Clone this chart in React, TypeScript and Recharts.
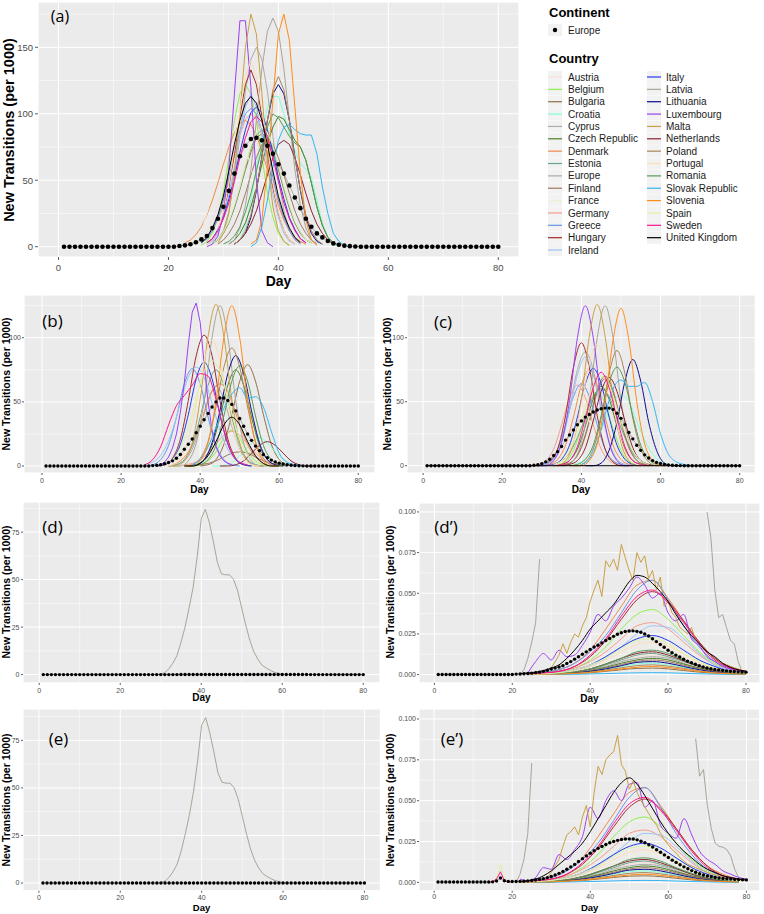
import React from 'react';
import { ComposedChart, Line, XAxis, YAxis, CartesianGrid } from 'recharts';

const FONT = "'Liberation Sans', Arial, Helvetica, sans-serif";

const countries = ['Austria','Belgium','Bulgaria','Croatia','Cyprus','Czech Republic','Denmark','Estonia','Europe','Finland','France','Germany','Greece','Hungary','Ireland','Italy','Latvia','Lithuania','Luxembourg','Malta','Netherlands','Poland','Portugal','Romania','Slovak Republic','Slovenia','Spain','Sweden','United Kingdom'];
const countryColors = ['#F6DED6','#8FEF4F','#8C7048','#7FFFD4','#ABABAB','#4A7F22','#F08A4B','#6AA68A','#A9A9A9','#A07860','#F1EFD8','#F59C8C','#6495ED','#A52A2A','#9DC3F5','#2238E8','#A8A497','#0A0A8E','#9B3FF0','#C9A045','#8B2232','#A9865A','#FFDDB5','#559A55','#33B5F5','#FF8C1A','#DDF4A4','#FF1493','#000000'];

const xTicks = [0, 20, 40, 60, 80];
const xMinor = [10, 30, 50, 70];

// Europe (continent) daily values, days 1..80
const europeA = [0,0,0,0,0,0,0,0,0,0,0,0,0,0,0,0,0,0,0,0,0,
  0.5,1,1.8,3.3,5.5,8,14,21,30,42,55,68,76,81,82,80,76,70,62,55,46,37,29,21,15,10,7,4.3,2.5,1.5,0.8,0.4,0.2,
  0,0,0,0,0,0,0,0,0,0,0,0,0,0,0,0,0,0,0,0,0,0,0,0,0,0];
const europeB = [0,0,0,0,0,0,0,0,0,0,0,0,0,0,0,0,0,0,0,0,0,0,0,0,0,0,0,
  0.3,0.6,1,1.7,2.7,4,6,9,13,17,21,26,31,36,41,46,50,53,53,51,48,43,37,31,25,20,15.5,12,9,6.5,4.6,3.2,2.2,1.5,1,0.6,0.4,0.2,0.1,
  0,0,0,0,0,0,0,0,0,0,0,0,0,0];
const europeC = [0,0,0,0,0,0,0,0,0,0,0,0,0,0,0,0,0,0,0,0,0,0,0,0,0,0,0,
  0.3,0.8,1.6,3,5,8,11,15,20,24,28,32,35,38,40,42,43.5,44.5,45,45,44,41,37,32,26,21,16,12,8.5,6,4,2.6,1.7,1,0.6,0.4,0.2,0.1,
  0,0,0,0,0,0,0,0,0,0,0,0,0,0,0];
// per 1000 of the axis unit (x0.001)
const europeDp = [0.1,0.1,0.1,0.1,0.1,0.1,0.1,0.1,0.1,0.1,0.1,0.1,0.1,0.1,0.1,0.1,0.1,0.1,0.1,0.1,
  0.3,0.4,0.5,0.7,0.9,1.2,1.5,2,2.7,3.4,4,4.7,5.5,6.8,8,9.5,11,12.5,14,15.5,
  17,18,19.5,21,22.2,23.5,24.8,25.7,26.5,26.8,26.9,26.6,26,25,23.7,22,20.3,18.5,16.8,15,
  13.5,12,10.8,9.5,8.3,7.3,6.4,5.5,4.7,4.1,3.6,3.2,2.9,2.6,2.3,2.1,1.9,1.7,1.6,1.5];
const europeEp = [0.2,0.2,0.2,0.2,0.2,0.2,0.2,0.2,0.2,0.2,0.2,0.2,0.2,0.2,0.3,0.8,2.7,1,0.6,0.5,
  0.5,0.6,0.7,0.9,1.1,1.4,1.8,2.3,2.9,3.6,4.5,5.5,6.7,8,9.5,11,12.8,14.5,16.2,17.8,
  19.4,20.8,22,23.2,24.2,25,25.7,26.2,26.5,26.6,26.5,26,25.2,24.2,23,21.6,20,18.4,16.8,15.2,
  13.6,12.2,10.8,9.5,8.3,7.2,6.2,5.3,4.5,3.9,3.4,3,2.7,2.4,2.2,2,1.8,1.7,1.6,1.5];

// series: [startDay, stepDays, ...values]
const seriesA: Record<string, number[]> = {
  'Austria': [25,1, 3,6,11,20,32,48,65,80,91,95,91,80,65,48,32,20,11,6,3],
  'Belgium': [26,1, 1,4,10,22,41,67,95,115,122,115,95,67,41,22,10,4,1],
  'Bulgaria': [28,1, 3,5,10,18,29,43,58,71,82,85,82,71,58,43,29,18,10,5,3],
  'Croatia': [32,1, 2,5,15,35,60,85,105,113,113,100,85,72,63,58,52,35,18,7,2,0],
  'Cyprus': [28,1, 2,5,12,27,51,83,117,141,150,141,117,83,51,27,12,5,2],
  'Czech Republic': [31,1, 2,5,10,18,30,45,62,78,90,98,96,88,80,75,65,48,30,16,7,3,1],
  'Denmark': [23,1, 3,5,9,15,24,35,48,62,75,86,93,95,92,84,72,58,44,31,20,12,7,4,2],
  'Estonia': [28,1, 3,5,11,18,30,44,60,74,84,88,84,74,60,44,30,18,11,5,3],
  'Finland': [29,1, 2,5,10,17,27,40,54,67,77,80,77,67,54,40,27,17,10,5,2],
  'France': [24,1, 2,5,12,25,40,55,70,82,88,85,75,60,42,27,15,7,3,1],
  'Germany': [26,1, 3,6,12,21,34,50,68,84,96,100,96,84,68,50,34,21,12,6,3],
  'Greece': [26,1, 3,6,12,22,35,52,71,87,100,104,100,87,71,52,35,22,12,6,3],
  'Hungary': [27,1, 2,5,12,25,45,70,98,122,133,122,98,70,45,25,12,5,2],
  'Ireland': [27,1, 2,4,10,22,39,60,85,105,115,105,85,60,39,22,10,4,2],
  'Italy': [27,1, 3,6,13,22,36,52,71,88,101,105,101,88,71,52,36,22,13,6,3],
  'Latvia': [31,1, 2,5,14,31,58,95,134,162,172,162,134,95,58,31,14,5,2],
  'Lithuania': [32,1, 2,5,10,22,42,68,95,115,122,115,95,68,42,22,10,4,2],
  'Luxembourg': [27,1, 0,2,8,25,60,115,170,170,120,50,12,3,0],
  'Malta': [29,1, 3,10,25,55,100,150,175,160,115,65,30,12,4,1],
  'Netherlands': [32,1, 2,5,10,17,27,40,54,67,77,80,77,67,54,40,27,17,10,5,2],
  'Poland': [32,1, 2,5,12,24,43,67,95,118,128,118,95,67,43,24,12,5,2],
  'Portugal': [27,1, 2,5,12,26,47,74,103,128,140,128,103,74,47,26,12,5,2],
  'Romania': [30,1, 2,4,8,15,26,40,57,74,90,100,97,90,83,78,75,65,48,30,16,7,3,1],
  'Slovak Republic': [35,1, 0,3,15,35,60,80,90,92,88,85,84,84,70,45,25,10,4,1,0],
  'Slovenia': [35,1, 2,5,20,60,110,160,175,155,105,55,20,5,1],
  'Spain': [28,1, 3,5,11,19,31,45,61,76,86,90,86,76,61,45,31,19,11,5,3],
  'Sweden': [27,1, 3,6,12,21,33,49,67,82,94,98,94,82,67,49,33,21,12,6,3],
  'United Kingdom': [26,1, 3,7,14,24,38,57,77,95,108,113,108,95,77,57,38,24,14,7,3],
};

const seriesB: Record<string, number[]> = {
  'Austria': [33,2, 1,4,10,22,38,54,60,54,38,22,10,4,1],
  'Belgium': [36,2, 0,0,1,4,11,22,28,22,11,4,1,0,0],
  'Bulgaria': [40,2, 0,1,5,17,40,66,79,66,40,17,5,1,0],
  'Croatia': [43,2, 0,0,1,5,11,18,22,18,11,5,1,0,0],
  'Cyprus': [32,2, 0,1,4,13,31,52,62,52,31,13,4,1,0],
  'Czech Republic': [37,2, 0,1,5,16,38,63,75,63,38,16,5,1,0],
  'Denmark': [33,2, 1,4,11,24,41,58,64,58,41,24,11,4,1],
  'Estonia': [32,2, 0,1,5,16,38,63,75,63,38,16,5,1,0],
  'Finland': [38,2, 0,1,2,4,7,10,11,10,7,4,2,1,0],
  'France': [25,2, 1,3,9,20,35,50,55,50,35,20,9,3,1],
  'Germany': [36,2, 1,2,5,10,17,24,27,24,17,10,5,2,1],
  'Greece': [26,2, 0,1,5,16,38,64,76,64,38,16,5,1,0],
  'Hungary': [29,2, 0,1,6,21,51,86,102,86,51,21,6,1,0],
  'Ireland': [27,2, 2,5,13,28,49,69,77,69,49,28,13,5,2],
  'Italy': [29,2, 0,1,5,17,40,68,81,68,40,17,5,1,0],
  'Latvia': [33,2, 0,0,4,18,51,100,125,100,51,18,4,0,0],
  'Lithuania': [37,2, 0,1,5,18,43,72,86,72,43,18,5,1,0],
  'Luxembourg': [30,1, 1,3,7,14,25,42,65,95,120,127,112,80,50,28,15,8,4,2,1],
  'Malta': [32,2, 0,0,4,18,52,101,126,101,52,18,4,0,0],
  'Netherlands': [45,2, 0,0,1,4,10,16,19,16,10,4,1,0,0],
  'Poland': [36,2, 0,1,6,19,46,77,92,77,46,19,6,1,0],
  'Portugal': [31,2, 0,1,6,21,49,82,98,82,49,21,6,1,0],
  'Romania': [38,2, 0,1,5,16,39,66,78,66,39,16,5,1,0],
  'Slovak Republic': [38,2, 1,5,15,30,45,56,61,53,54,46,27,10,3,1,0],
  'Slovenia': [36,2, 0,0,4,18,51,100,125,100,51,18,4,0,0],
  'Spain': [31,2, 2,5,14,30,52,74,82,74,52,30,14,5,2],
  'Sweden': [26,2, 1,5,15,32,47,55,63,72,70,52,28,10,3,1],
  'United Kingdom': [36,2, 0,0,2,8,19,32,38,32,19,8,2,0,0],
};

const seriesC: Record<string, number[]> = {
  'Austria': [32,2, 1,4,10,22,38,54,60,54,38,22,10,4,1],
  'Belgium': [32,2, 0,1,3,12,29,49,58,49,29,12,3,1,0],
  'Bulgaria': [34,2, 0,1,4,15,35,59,70,59,35,15,4,1,0],
  'Croatia': [38,2, 1,3,9,20,35,50,55,50,35,20,9,3,1],
  'Cyprus': [29,2, 0,1,5,19,45,75,89,75,45,19,5,1,0],
  'Czech Republic': [33,2, 0,1,4,13,31,52,62,52,31,13,4,1,0],
  'Denmark': [30,2, 0,1,5,16,38,63,75,63,38,16,5,1,0],
  'Estonia': [33,2, 1,4,10,22,38,54,60,54,38,22,10,4,1],
  'Finland': [34,2, 0,1,4,14,34,57,68,57,34,14,4,1,0],
  'France': [26,2, 1,3,9,20,35,50,55,50,35,20,9,3,1],
  'Germany': [27,2, 0,1,4,13,32,53,63,53,32,13,4,1,0],
  'Greece': [28,2, 0,1,4,13,32,54,64,54,32,13,4,1,0],
  'Hungary': [28,2, 0,0,3,13,39,77,96,77,39,13,3,0,0],
  'Ireland': [29,2, 0,1,5,18,43,71,85,71,43,18,5,1,0],
  'Italy': [31,2, 0,1,5,16,38,64,76,64,38,16,5,1,0],
  'Latvia': [34,2, 0,0,4,18,51,100,125,100,51,18,4,0,0],
  'Lithuania': [41,2, 0,0,2,12,34,66,83,66,34,12,2,0,0],
  'Luxembourg': [29,2, 0,0,4,18,51,100,125,100,51,18,4,0,0],
  'Malta': [32,2, 0,0,4,18,52,101,126,101,52,18,4,0,0],
  'Netherlands': [35,2, 0,1,4,14,35,58,69,58,35,14,4,1,0],
  'Poland': [37,2, 0,0,3,13,37,72,90,72,37,13,3,0,0],
  'Portugal': [32,2, 0,1,6,20,48,80,95,80,48,20,6,1,0],
  'Romania': [37,2, 0,1,5,16,39,65,77,65,39,16,5,1,0],
  'Slovak Republic': [40,2, 1,5,18,40,60,67,62,62,65,50,25,9,3,1,0],
  'Slovenia': [38,2, 0,0,4,17,50,98,123,98,50,17,4,0,0],
  'Spain': [33,2, 1,4,12,26,45,63,70,63,45,26,12,4,1],
  'Sweden': [33,2, 0,1,4,15,37,61,73,61,37,15,4,1,0],
  'United Kingdom': [1,79, 0,0],
};

const seriesD: Record<string, number[]> = {
  'Latvia': [29,1, 0,0.3,1,3,6,10,17,25,35,46,62,82,87,80,70,59,53,52.5,52.5,50,44,35,26,18,12,8,5,3.5,2.3,1.3,0.7,0.2,0],
};
const seriesE: Record<string, number[]> = {
  'Latvia': [29,1, 0,0.3,1,3,6,10,17,26,36,48,64,83,87,79,69,58,53,52.5,52.5,50,44,35,26,18,12,8,5,3.5,2.3,1.3,0.7,0.2,0],
};

// small countries in (d') and (e'), x0.001, every 4 days
const minorVals: Record<string, number[]> = {
  'Austria': [0.1,0.3,0.7,1.5,3,5.5,8.5,11,12,10.5,7.5,4.5,2.3,1.1,0.5],
  'Belgium': [0.3,0.8,2,4,9,17,28,37,40,34,24,14,7,3,1.5],
  'Bulgaria': [0,0.1,0.3,0.6,1.1,2,3,3.8,4,3.5,2.5,1.5,0.8,0.4,0.2],
  'Croatia': [0.1,0.2,0.4,0.9,1.8,3.2,5,6.5,7,6,4.5,2.7,1.4,0.6,0.3],
  'Cyprus': [0.1,0.3,0.6,1.4,3,5,8,10,11,10,7,4,2,1,0.5],
  'Czech Republic': [0.1,0.2,0.5,1.2,2.5,4.5,7,9,10,9,6.5,4,2,1,0.5],
  'Denmark': [0.5,1.5,3,7,15,28,42,55,58,47,33,20,10,5,2],
  'Estonia': [0.1,0.3,0.6,1.5,3,6,9,12,13,11,8,5,2.5,1.2,0.6],
  'Finland': [0.1,0.2,0.5,1,2.2,4,6.2,8.2,9,8,5.8,3.5,1.8,0.8,0.4],
  'France': [0.2,0.4,0.9,2,4,8,12,16,18,16,11,7,3.5,1.6,0.8],
  'Germany': [0.3,0.8,2,4,8,14,22,30,32,28,20,12,6,3,1.5],
  'Greece': [0.5,1.5,3,7,14,24,38,52,58,46,30,17,8,4,2],
  'Hungary': [0.3,1,2,5,11,21,34,46,51,45,33,20,10,4,2],
  'Ireland': [0.2,0.5,1,2.5,5,10,17,25,30,29,22,13,6,3,1.5],
  'Italy': [0.2,0.5,1.2,3,6,11,17,22,24,21,15,9,5,2,1],
  'Lithuania': [0.1,0.2,0.4,1,2,3.5,5.5,7.5,8,7,5,3,1.5,0.7,0.3],
  'Netherlands': [0.1,0.3,0.7,1.6,3.5,6.5,10,13,14,12,8.5,5,2.5,1.2,0.6],
  'Poland': [0.1,0.2,0.4,0.8,1.6,2.8,4.2,5.5,6,5.2,3.8,2.3,1.2,0.5,0.2],
  'Portugal': [0.2,0.4,1,2.4,5,9,14,18.5,20,17.5,12.5,7.5,3.8,1.7,0.8],
  'Romania': [0.1,0.3,0.7,1.6,3.5,6.5,10,14,15,13,9,5.5,2.8,1.3,0.6],
  'Slovak Republic': [0,0.1,0.1,0.2,0.4,0.6,0.9,1.1,1.2,1.1,0.8,0.5,0.3,0.1,0.1],
  'Slovenia': [0.1,0.2,0.3,0.7,1.3,2.3,3.5,4.5,5,4.3,3.2,2,1,0.5,0.2],
  'Spain': [0.2,0.5,1.2,3,6,10,16,21,22,19,13,8,4,2,1],
  'Sweden': [0.5,1,2,5,12,22,36,48,52,44,32,19,9,4,2],
};
const dpMinorStart = 24;
const epMinorStart = 22;
const minorStep = 4;

const majorDp: Record<string, number[]> = {
  'Latvia': [22,1, 0,3,10,20,32,71],
  'Latvia#2': [70,1, 100,84,52,35,37,29,21,19,8,2,1],
  'Luxembourg': [24,2, 1,8,13,9,15,11,12,18,26,37,33,42,47,53,60,55,47,50,38,33,37,22,18,11,8,5,3.5,2.5,2],
  'Malta': [30,1, 4,8,12,19,13,20,25,23,30,35,45,52,58,48,70,66,71,64,80,72,64,58,75,69,73,59,64,52,60,42,45,38,35,29,27,25,29,22,19,16,13,11,9,8,7,6,5,4,3.5,2.5,2],
  'United Kingdom': [22,2, 0.5,1,1.5,2.5,4,6,10,15,21,28,33,38,43,50,57,61,60,56,51,45,37,30,24,19,14,11,7,4.5,3,2],
};
const majorEp: Record<string, number[]> = {
  'Latvia': [21,1, 0,5,14,30,73],
  'Latvia#2': [67,1, 88,65,69,47,33,24,22,21.5,20,16,8,3,1.5,1],
  'Luxembourg': [22,2, 2,1,3,9,8,17,14,20,28,46,39,50,56,50,60,61,46,50,35,30,27,39,29,19,14,11,7,5,3,2],
  'Malta': [28,1, 2,3,6,10,14,22,29,31,34,29,40,47,34,55,71,66,75,78,80,90,72,68,57,62,55,50,46,42,38,35,30,26,23,20,18,15,13,11,10,9,8,7,6,5,4.5,4,3.5,3,2.5,2,1.8,1.5,1.2],
  'Sweden#1': [14,1, 0,0.5,2,6.5,1,0.3,0.2],
  'Spain#1': [15,1, 0,3,11,2,0.5,0.3],
  'United Kingdom': [22,2, 0.5,1,2,4,7,11,15,19,24,31,39,47,55,61,64,60,53,45,37,30,24,19,15,11,8,6,4,3,2,1.5],
};

function buildMinor(start: number, major: Record<string, number[]>) {
  const out: Record<string, number[]> = {};
  Object.keys(minorVals).forEach(k => { out[k] = [start, minorStep, ...minorVals[k]]; });
  Object.keys(major).forEach(k => { out[k] = major[k]; });
  return out;
}

interface Cfg {
  L: number; T: number; R: number; B: number;
  xd: [number, number]; yd: [number, number];
  yt: number[]; ym: number[];
  series: Record<string, number[]>;
  europe: number[]; scale: number; escale: number; dotR: number;
  fs: number; yw: number; xh: number; tick: number; xtm: number; ytm: number;
  fmt?: (v: number) => string;
}

const tickStyle = (fs: number) => ({ fontSize: fs, fill: '#4D4D4D', fontFamily: FONT });

function Panel({ c }: { c: Cfg }) {
  const W = c.R - c.L, H = c.B - c.T;
  const lines: React.ReactElement[] = [];
  countries.forEach((name, ci) => {
    const color = countryColors[ci];
    if (name === 'Europe') {
      const d = c.europe.map((v, i) => ({ day: i + 1, v: v * c.escale }));
      lines.push(<Line key="EuropeLine" data={d} dataKey="v" type="linear" stroke={color} strokeWidth={1} dot={false} activeDot={false} isAnimationActive={false} />);
      return;
    }
    Object.keys(c.series).filter(k => k === name || k.startsWith(name + '#')).forEach(k => {
      const s = c.series[k];
      const start = s[0], step = s[1];
      const pts = s.slice(2).map((v, i) => ({ day: start + i * step, v: v * c.scale }));
      lines.push(<Line key={k} data={pts} dataKey="v" type={step > 1 && step < 10 ? 'monotone' : 'linear'} stroke={color} strokeWidth={1} dot={false} activeDot={false} isAnimationActive={false} />);
    });
  });
  const dots = c.europe.map((v, i) => ({ day: i + 1, v: v * c.escale }));
  return (
    <div style={{ position: 'absolute', left: c.L - c.yw, top: c.T }}>
      <ComposedChart width={W + c.yw} height={H + c.xh} margin={{ top: 0, right: 0, bottom: 0, left: 0 }}>
        <XAxis xAxisId="m" type="number" dataKey="day" domain={c.xd} ticks={xMinor} hide allowDataOverflow />
        <YAxis yAxisId="m" type="number" domain={c.yd} ticks={c.ym} hide allowDataOverflow />
        <XAxis type="number" dataKey="day" domain={c.xd} ticks={xTicks} interval={0} allowDataOverflow
          height={c.xh} tickSize={c.tick} tickMargin={c.xtm} axisLine={false}
          tickLine={{ stroke: '#333333', strokeWidth: 0.8 }} tick={tickStyle(c.fs)} />
        <YAxis type="number" domain={c.yd} ticks={c.yt} interval={0} allowDataOverflow
          width={c.yw} tickSize={c.tick} tickMargin={c.ytm} axisLine={false}
          tickLine={{ stroke: '#333333', strokeWidth: 0.8 }} tick={tickStyle(c.fs)}
          tickFormatter={c.fmt} />
        <CartesianGrid fill="#EBEBEB" stroke="#FFFFFF" strokeWidth={1} />
        <CartesianGrid xAxisId="m" yAxisId="m" fill="none" stroke="#FFFFFF" strokeWidth={0.5} />
        {lines}
        <Line key="dots" data={dots} dataKey="v" stroke="none" dot={{ r: c.dotR, fill: '#000', stroke: 'none' }} activeDot={false} isAnimationActive={false} />
      </ComposedChart>
    </div>
  );
}

const f3 = (v: number) => v.toFixed(3);

const panels: Cfg[] = [
  { L: 38, T: 2, R: 519, B: 257, xd: [-3.73, 83.77], yd: [-7.75, 184.1], yt: [0, 50, 100, 150], ym: [25, 75, 125, 175],
    series: seriesA, europe: europeA, scale: 1, escale: 1, dotR: 2.3, fs: 9.5, yw: 24, xh: 22, tick: 3, xtm: 4, ytm: 2 },
  { L: 24, T: 295, R: 375, B: 473, xd: [-4.57, 84.23], yd: [-5.46, 133.3], yt: [0, 50, 100], ym: [25, 75, 125],
    series: seriesB, europe: europeB, scale: 1, escale: 1, dotR: 1.7, fs: 7, yw: 18, xh: 14, tick: 2, xtm: 3, ytm: 1 },
  { L: 406.7, T: 295, R: 755, B: 473, xd: [-4.07, 83.95], yd: [-5.7, 133.4], yt: [0, 50, 100], ym: [25, 75, 125],
    series: seriesC, europe: europeC, scale: 1, escale: 1, dotR: 1.7, fs: 7, yw: 18, xh: 14, tick: 2, xtm: 3, ytm: 1 },
  { L: 23, T: 501.7, R: 380, B: 682.6, xd: [-4.01, 84.14], yd: [-4.37, 90.84], yt: [0, 25, 50, 75], ym: [12.5, 37.5, 62.5, 87.5],
    series: seriesD, europe: europeDp, scale: 1, escale: 0.001, dotR: 1.7, fs: 7, yw: 18, xh: 14, tick: 2, xtm: 3, ytm: 1.5 },
  { L: 419, T: 502.7, R: 760, B: 682.6, xd: [-3.95, 83.6], yd: [-0.0051, 0.1055], yt: [0, 0.025, 0.05, 0.075, 0.1], ym: [0.0125, 0.0375, 0.0625, 0.0875],
    series: buildMinor(dpMinorStart, majorDp), europe: europeDp, scale: 0.001, escale: 0.001, dotR: 1.7, fs: 7, yw: 26, xh: 14, tick: 2, xtm: 3, ytm: 1, fmt: f3 },
  { L: 22.7, T: 709.3, R: 380, B: 891, xd: [-3.9, 83.9], yd: [-4.05, 91.5], yt: [0, 25, 50, 75], ym: [12.5, 37.5, 62.5, 87.5],
    series: seriesE, europe: europeEp, scale: 1, escale: 0.001, dotR: 1.7, fs: 7, yw: 18, xh: 12, tick: 2, xtm: 2, ytm: 1.5 },
  { L: 419.3, T: 709.3, R: 760, B: 891, xd: [-3.87, 83.4], yd: [-0.0051, 0.1061], yt: [0, 0.025, 0.05, 0.075, 0.1], ym: [0.0125, 0.0375, 0.0625, 0.0875],
    series: buildMinor(epMinorStart, majorEp), europe: europeEp, scale: 0.001, escale: 0.001, dotR: 1.7, fs: 7, yw: 26, xh: 12, tick: 2, xtm: 1.5, ytm: 1, fmt: f3 },
];

const panelLetters = ['(a)', '(b)', '(c)', '(d)', '(d\u2019)', '(e)', '(e\u2019)'];
const letterPos: [number, number, number][] = [[60, 16, 16], [52.5, 320, 17], [443, 321, 17], [52.5, 525.5, 17], [446, 525.5, 17], [58.5, 737.5, 17], [452, 737.5, 17]];
const dayPos: [number, number, number][] = [[278.5, 281, 14], [199.5, 490, 10], [581, 490, 10], [201.5, 698.3, 10], [589.5, 699, 10], [201.5, 908, 9.5], [589.7, 907.5, 9.5]];
const yTitlePos: [number, number, number][] = [[9, 129.5, 14.5], [6, 384, 10.5], [387, 384, 10.5], [6, 592, 10.5], [390, 592, 10.5], [6, 800, 10.5], [390, 800, 10.5]];

function Txt({ x, y, fs, bold, rot, children, font }: { x: number; y: number; fs: number; bold?: boolean; rot?: boolean; children: React.ReactNode; font?: string }) {
  return (
    <div style={{ position: 'absolute', left: x, top: y, transform: `translate(-50%, -50%)${rot ? ' rotate(-90deg)' : ''}`,
      fontSize: fs, fontWeight: bold ? 700 : 400, fontFamily: font || FONT, whiteSpace: 'nowrap', lineHeight: 1, color: '#000' }}>
      {children}
    </div>
  );
}

function Legend() {
  const rowY = (i: number) => 77 + i * 12.36;
  const col1 = countries.slice(0, 15);
  const col2 = countries.slice(15);
  const item = (name: string, i: number, kx: number, tx: number) => {
    const ci = countries.indexOf(name);
    const y = rowY(i);
    return (
      <g key={name}>
        <rect x={kx} y={y - 6} width={14} height={12} fill="#F2F2F2" />
        <line x1={kx} x2={kx + 14} y1={y} y2={y} stroke={countryColors[ci]} strokeWidth={1.2} />
        <text x={tx} y={y + 3.6} fontSize={10} fontFamily={FONT} fill="#1A1A1A">{name}</text>
      </g>
    );
  };
  return (
    <svg style={{ position: 'absolute', left: 0, top: 0 }} width={764} height={270}>
      <text x={549} y={16.5} fontSize={13} fontWeight={700} fontFamily={FONT} fill="#000">Continent</text>
      <rect x={548} y={24} width={14} height={12} fill="#F2F2F2" />
      <circle cx={555} cy={30} r={2.2} fill="#000" />
      <text x={568} y={33.6} fontSize={10} fontFamily={FONT} fill="#1A1A1A">Europe</text>
      <text x={549} y={62.5} fontSize={13} fontWeight={700} fontFamily={FONT} fill="#000">Country</text>
      {col1.map((n, i) => item(n, i, 548, 568))}
      {col2.map((n, i) => item(n, i, 647, 666))}
    </svg>
  );
}

export default function App() {
  return (
    <div style={{ position: 'absolute', left: 0, top: 0, width: 764, height: 914, background: '#FFFFFF', overflow: 'hidden' }}>
      {panels.map((c, i) => <Panel key={i} c={c} />)}
      {panelLetters.map((t, i) => (
        <Txt key={'l' + i} x={letterPos[i][0]} y={letterPos[i][1]} fs={letterPos[i][2]} font="'Open Sans', 'Liberation Sans', sans-serif">{t}</Txt>
      ))}
      {dayPos.map((p, i) => <Txt key={'d' + i} x={p[0]} y={p[1]} fs={p[2]} bold>Day</Txt>)}
      {yTitlePos.map((p, i) => <Txt key={'y' + i} x={p[0]} y={p[1]} fs={p[2]} bold rot>New Transitions (per 1000)</Txt>)}
      <Legend />
    </div>
  );
}
